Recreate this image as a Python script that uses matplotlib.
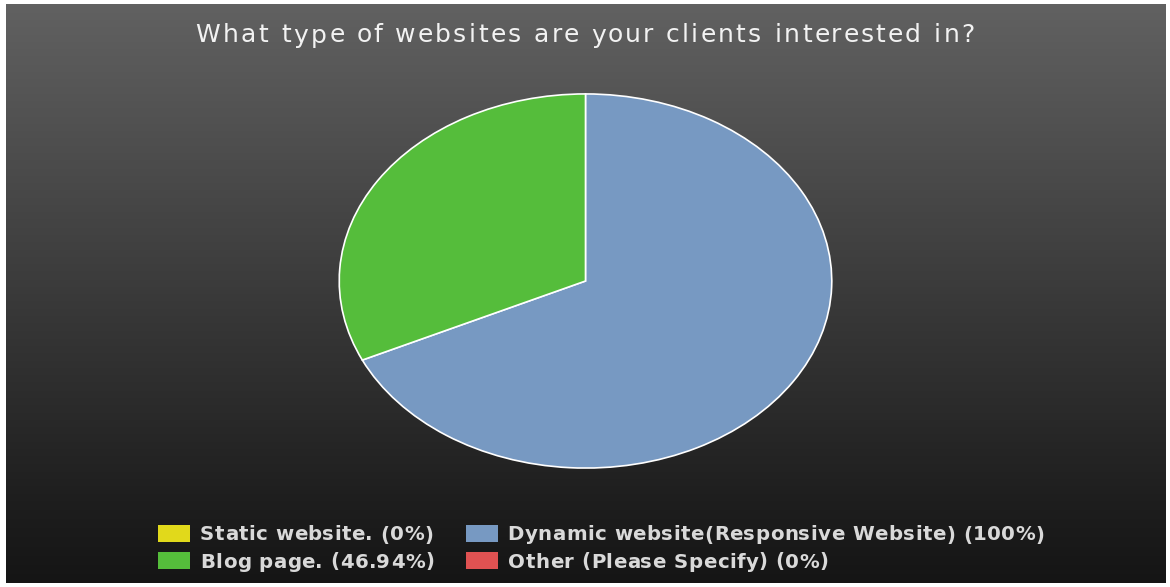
import numpy as np
import matplotlib
matplotlib.use("Agg")
import matplotlib.pyplot as plt
from matplotlib.patches import Rectangle
from matplotlib.colors import LinearSegmentedColormap

title = "What type of websites are your clients interested in?"
categories = ["Static website.", "Dynamic website(Responsive Website)",
              "Blog page.", "Other (Please Specify)"]
percents = [0, 100, 46.94, 0]
pct_labels = ["0%", "100%", "46.94%", "0%"]
colors = ["#e1d91b", "#7799c2", "#55bd3b", "#e05252"]

W, H, DPI = 1170, 587, 100
fig = plt.figure(figsize=(W / DPI, H / DPI), dpi=DPI, facecolor="white")
renderer = fig.canvas.get_renderer()

# dark gradient panel
bg = fig.add_axes([6 / W, 4 / H, 1160 / W, 579 / H])
grad = np.linspace(0, 1, 512).reshape(-1, 1)
cmap = LinearSegmentedColormap.from_list(
    "panel", [(0.0, "#616161"), (0.86, "#1e1e1e"), (1.0, "#151515")])
bg.imshow(grad, aspect="auto", cmap=cmap, extent=[0, 1, 0, 1], origin="upper")
bg.set_axis_off()

# pie (elliptical: aspect left free)
ax = fig.add_axes([338 / W, (H - 469) / H, 495 / W, 376 / H])
ax.set_axis_off()
shown = [i for i, v in enumerate(percents) if v > 0]
ax.pie([percents[i] for i in shown], colors=[colors[i] for i in shown],
       startangle=90, counterclock=False, radius=1.0,
       wedgeprops=dict(edgecolor="white", linewidth=1.2))
ax.set_xlim(-1.005, 1.005)
ax.set_ylim(-1.005, 1.005)
ax.set_aspect("auto")


def text_width(s, **kw):
    t = fig.text(0, 0, s, **kw)
    w = t.get_window_extent(renderer).width
    t.remove()
    return w


def char_advances(s, **kw):
    ref = text_width("xx", **kw)
    return [text_width("x" + c + "x", **kw) - ref for c in s]


def tracked_text(x, y, s, tracking, **kw):
    """Draw s starting at pixel x (left), centred vertically on pixel y,
    with extra spacing between letters; returns the right edge."""
    adv = char_advances(s, **kw)
    for c, a in zip(s, adv):
        if c != " ":
            fig.text(x / W, (H - y) / H, c, ha="left", va="center_baseline", **kw)
        x += a + tracking
    return x - tracking


# title, letter-spaced and centred
title_kw = dict(color="#f2f2f2", fontsize=18, family="DejaVu Sans")
adv = char_advances(title, **title_kw)
target_w = 780
track = (target_w - sum(adv)) / (len(title) - 1)
tracked_text(585 - target_w / 2, 33, title, track, **title_kw)

# legend laid out as two flowing rows
leg_kw = dict(color="#d9d9d9", fontsize=14.2, fontweight="bold", family="DejaVu Sans")
rows = [[0, 1], [2, 3]]
row_y = [533, 560]
sw_w, sw_h = 32, 17
x0 = 158
gap_text = 10
gap_item = 32
for r, items in enumerate(rows):
    x = x0
    yc = row_y[r]
    for i in items:
        fig.patches.append(Rectangle((x / W, (H - yc - sw_h / 2) / H), sw_w / W, sw_h / H,
                                     transform=fig.transFigure, facecolor=colors[i],
                                     edgecolor="none"))
        x_end = tracked_text(x + sw_w + gap_text, yc,
                             f"{categories[i]} ({pct_labels[i]})", 0.45, **leg_kw)
        x = x_end + gap_item

fig.savefig("out.png", dpi=DPI, facecolor=fig.get_facecolor())
